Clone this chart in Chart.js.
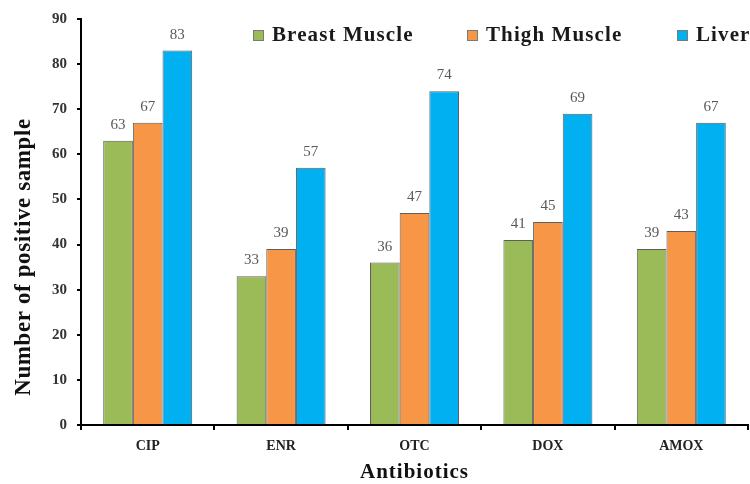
<!DOCTYPE html>
<html><head><meta charset="utf-8">
<script src="https://cdn.jsdelivr.net/npm/chart.js@4/dist/chart.umd.min.js"></script>
<style>html,body{margin:0;padding:0;background:#fff}#wrap{width:750px;height:484px}</style>
</head><body><div id="wrap"><canvas id="c" width="750" height="484"></canvas></div>
<script>
const categories = ['CIP', 'ENR', 'OTC', 'DOX', 'AMOX'];
const breastMuscle = [63, 33, 36, 41, 39];
const thighMuscle = [67, 39, 47, 45, 43];
const liver = [83, 57, 74, 69, 67];
const seriesNames = ['Breast Muscle', 'Thigh Muscle', 'Liver'];
const yTicks = [0, 10, 20, 30, 40, 50, 60, 70, 80, 90];
const xTitle = 'Antibiotics';
const yTitle = 'Number of positive sample';

const colors = ['#9BBB59', '#F79646', '#00B0F0'];
const serif = '"Liberation Serif", "Times New Roman", serif';

const valueLabels = {
  id: 'valueLabels',
  afterDatasetsDraw(chart) {
    const ctx = chart.ctx;
    ctx.save();
    ctx.font = '15px ' + serif;
    ctx.fillStyle = '#595959';
    ctx.textAlign = 'center';
    ctx.textBaseline = 'middle';
    chart.data.datasets.forEach((ds, i) => {
      chart.getDatasetMeta(i).data.forEach((bar, j) => {
        ctx.fillText(String(ds.data[j]), bar.x, bar.y - 16);
      });
    });
    ctx.restore();
  }
};

const titlesAndLegend = {
  id: 'titlesAndLegend',
  afterDraw(chart) {
    const ctx = chart.ctx;
    const area = chart.chartArea;
    // legend
    ctx.save();
    ctx.font = 'bold 21px ' + serif;
    try { ctx.letterSpacing = '1.1px'; } catch (e) {}
    ctx.textBaseline = 'alphabetic';
    ctx.textAlign = 'left';
    const starts = [253, 467, 677];
    chart.data.datasets.forEach((ds, i) => {
      const x = starts[i];
      ctx.fillStyle = ds.backgroundColor;
      ctx.fillRect(x, 30, 11, 11);
      ctx.strokeStyle = '#7a7a7a';
      ctx.lineWidth = 1;
      ctx.strokeRect(x + 0.5, 30.5, 10, 10);
      ctx.fillStyle = '#1a1a1a';
      ctx.fillText(ds.label, x + 19, 41);
    });
    ctx.restore();
    // x title
    ctx.save();
    ctx.font = 'bold 21px ' + serif;
    try { ctx.letterSpacing = '1px'; } catch (e) {}
    ctx.fillStyle = '#111';
    ctx.textAlign = 'center';
    ctx.textBaseline = 'alphabetic';
    ctx.fillText(xTitle, (area.left + area.right) / 2, 478);
    ctx.restore();
    // y title
    ctx.save();
    ctx.font = 'bold 23px ' + serif;
    try { ctx.letterSpacing = '0.6px'; } catch (e) {}
    ctx.fillStyle = '#111';
    ctx.textAlign = 'center';
    ctx.textBaseline = 'middle';
    ctx.translate(24, 257);
    ctx.rotate(-Math.PI / 2);
    ctx.fillText(yTitle, 0, 0);
    ctx.restore();
  }
};

new Chart(document.getElementById('c'), {
  type: 'bar',
  data: {
    labels: categories,
    datasets: [
      { label: seriesNames[0], data: breastMuscle, backgroundColor: colors[0] },
      { label: seriesNames[1], data: thighMuscle, backgroundColor: colors[1] },
      { label: seriesNames[2], data: liver, backgroundColor: colors[2] }
    ]
  },
  options: {
    responsive: false,
    animation: false,
    devicePixelRatio: 1,
    layout: { padding: { top: 18, right: 2, left: 0, bottom: 0 } },
    datasets: { bar: { borderColor: '#5e5e5e', borderWidth: 1, categoryPercentage: 0.667, barPercentage: 1 } },
    plugins: { legend: { display: false }, tooltip: { enabled: false } },
    scales: {
      x: {
        afterFit(s) { s.height = 59; },
        border: { display: true, color: '#000', width: 2 },
        grid: { display: true, drawOnChartArea: false, drawTicks: true, tickLength: 5, color: '#000', lineWidth: 2, offset: true },
        ticks: { color: '#222', font: { family: serif, size: 14, weight: 'bold' }, padding: 8 },
        title: { display: false }
      },
      y: {
        min: 0, max: 90,
        afterFit(s) { s.width = 81; },
        afterBuildTicks(s) { s.ticks = yTicks.map(v => ({ value: v })); },
        border: { display: true, color: '#000', width: 2 },
        grid: { display: true, drawOnChartArea: false, drawTicks: true, tickLength: 4, color: '#000', lineWidth: 2 },
        ticks: { color: '#333', font: { family: serif, size: 15, weight: 'bold' }, padding: 10 },
        title: { display: false }
      }
    }
  },
  plugins: [valueLabels, titlesAndLegend]
});
</script>
</body></html>
